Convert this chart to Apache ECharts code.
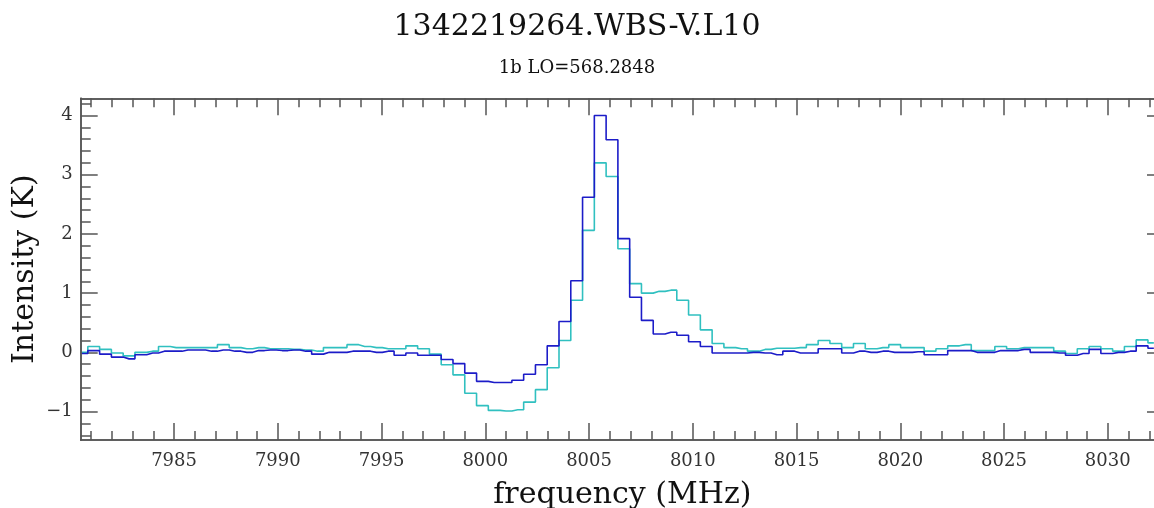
<!DOCTYPE html>
<html>
<head>
<meta charset="utf-8">
<title>1342219264.WBS-V.L10</title>
<script src="https://cdn.jsdelivr.net/npm/echarts@6/dist/echarts.min.js"></script>
<style>
  html, body { margin: 0; padding: 0; background: #fff; }
  #main { width: 1154px; height: 508px; }
</style>
</head>
<body>
<div id="main"></div>
<script>
// channel grid of the spectrum (centre of first channel, channel width in MHz)
var freq0 = 7980.56;
var dFreq = 0.5677;

// intensity (K) per channel
var blueK = [
  -0.02, 0.03, -0.03, -0.08, -0.11, -0.04, -0.01, 0.02, 0.02, 0.04,
  0.04, 0.02, 0.04, 0.02, 0.00, 0.03, 0.04, 0.03, 0.04, 0.02,
  -0.03, 0.00, 0.00, 0.02, 0.02, 0.00, 0.02, -0.05, -0.01, -0.05,
  -0.05, -0.12, -0.19, -0.35, -0.49, -0.51, -0.51, -0.47, -0.37, -0.21,
  0.11, 0.52, 1.21, 2.62, 4.00, 3.59, 1.92, 0.93, 0.54, 0.31,
  0.34, 0.29, 0.18, 0.10, -0.01, -0.01, -0.01, 0.00, -0.01, -0.04,
  0.02, -0.01, -0.01, 0.06, 0.06, -0.01, 0.02, 0.00, 0.02, 0.00,
  0.00, 0.01, -0.04, -0.04, 0.03, 0.03, 0.00, 0.00, 0.03, 0.03,
  0.05, 0.00, 0.00, -0.01, -0.05, -0.02, 0.05, -0.02, 0.00, 0.02,
  0.11, 0.07
];
var cyanK = [
  0.00, 0.10, 0.05, -0.01, -0.06, 0.00, 0.02, 0.10, 0.08, 0.08,
  0.08, 0.08, 0.13, 0.08, 0.06, 0.08, 0.06, 0.06, 0.05, 0.04,
  0.02, 0.08, 0.08, 0.13, 0.10, 0.08, 0.06, 0.06, 0.11, 0.06,
  -0.03, -0.21, -0.38, -0.69, -0.90, -0.98, -0.99, -0.97, -0.84, -0.63,
  -0.26, 0.20, 0.88, 2.06, 3.20, 2.97, 1.75, 1.16, 1.00, 1.03,
  1.05, 0.88, 0.63, 0.38, 0.15, 0.08, 0.06, 0.02, 0.05, 0.07,
  0.07, 0.08, 0.13, 0.20, 0.15, 0.08, 0.15, 0.06, 0.08, 0.13,
  0.08, 0.08, 0.02, 0.06, 0.11, 0.13, 0.03, 0.03, 0.10, 0.06,
  0.08, 0.08, 0.08, 0.02, -0.02, 0.06, 0.10, 0.06, 0.02, 0.10,
  0.21, 0.16
];

var xTicks = [7985, 7990, 7995, 8000, 8005, 8010, 8015, 8020, 8025, 8030];
var yTicks = [-1, 0, 1, 2, 3, 4];

var xMin = 7980.5, xMax = 8032.71;
var yMin = -1.48, yMax = 4.29;

var xMinor = [];
for (var f = 7981; f <= 8032; f++) xMinor.push(f);
var yMinor = [];
for (var v = -14; v <= 42; v += 2) yMinor.push(v / 10);

function pairs(vals) {
    return vals.map(function (k, i) {
        return [freq0 + i * dFreq, k];
    });
}

var serif = 'DejaVu Serif';
var axisCol = '#555';

function xAx(pos, ticks, len, labels) {
    return {
        type: 'value', position: pos, min: xMin, max: xMax,
        axisLine: { show: true, onZero: false, lineStyle: { color: axisCol, width: 1.5 } },
        axisTick: { show: true, inside: true, length: len, customValues: ticks,
                    lineStyle: { color: axisCol, width: 1.5 } },
        axisLabel: labels ? { show: true, customValues: ticks, margin: 12,
                    fontFamily: serif, fontSize: 18, color: '#333',
                    formatter: function (val) { return String(val); } } : { show: false },
        splitLine: { show: false }
    };
}

function yAx(pos, ticks, len, labels) {
    return {
        type: 'value', position: pos, min: yMin, max: yMax,
        axisLine: { show: true, onZero: false, lineStyle: { color: axisCol, width: 1.5 } },
        axisTick: { show: true, inside: true, length: len, customValues: ticks,
                    lineStyle: { color: axisCol, width: 1.5 } },
        axisLabel: labels ? { show: true, customValues: ticks, margin: 8,
                    fontFamily: serif, fontSize: 18, color: '#333',
                    formatter: function (val) { return val < 0 ? '\u2212' + Math.abs(val) : '' + val; } }
                    : { show: false },
        splitLine: { show: false }
    };
}

var chartDom = document.getElementById('main');
var myChart = echarts.init(chartDom);
var option;

var xMain = xAx('bottom', xTicks, 17, true);
xMain.name = 'frequency (MHz)';
xMain.nameLocation = 'middle';
xMain.nameGap = 40;
xMain.nameMoveOverlap = false;
xMain.nameTextStyle = { fontFamily: serif, fontSize: 30, color: '#111' };

var yMain = yAx('left', yTicks, 17, true);
yMain.name = 'Intensity (K)';
yMain.nameLocation = 'middle';
yMain.nameGap = 40;
yMain.nameMoveOverlap = false;
yMain.nameTextStyle = { fontFamily: serif, fontSize: 30, color: '#111' };

option = {
    animation: false,
    backgroundColor: '#fff',
    title: [
        {
            text: '1342219264.WBS-V.L10',
            left: 'center',
            top: 7,
            textStyle: { fontFamily: serif, fontSize: 30, fontWeight: 'normal', color: '#111' }
        },
        {
            text: '1b LO=568.2848',
            left: 'center',
            top: 54,
            textStyle: { fontFamily: serif, fontSize: 18, fontWeight: 'normal', color: '#111' }
        }
    ],
    grid: { left: 80.7, right: -10, top: 98.3, bottom: 68, containLabel: false, outerBoundsMode: 'none' },
    xAxis: [
        xMain,
        xAx('bottom', xMinor, 9, false),
        xAx('top', xTicks, 17, false),
        xAx('top', xMinor, 9, false)
    ],
    yAxis: [
        yMain,
        yAx('left', yMinor, 10, false),
        yAx('right', yTicks, 17, false),
        yAx('right', yMinor, 10, false)
    ],
    series: [
        {
            name: 'cyan',
            type: 'line',
            step: 'middle',
            showSymbol: false,
            data: pairs(cyanK),
            lineStyle: { color: '#30c0c0', width: 1.6 },
            clip: true
        },
        {
            name: 'blue',
            type: 'line',
            step: 'middle',
            showSymbol: false,
            data: pairs(blueK),
            lineStyle: { color: '#1c1cc8', width: 1.6 },
            clip: true
        }
    ]
};

option && myChart.setOption(option);
</script>
</body>
</html>
